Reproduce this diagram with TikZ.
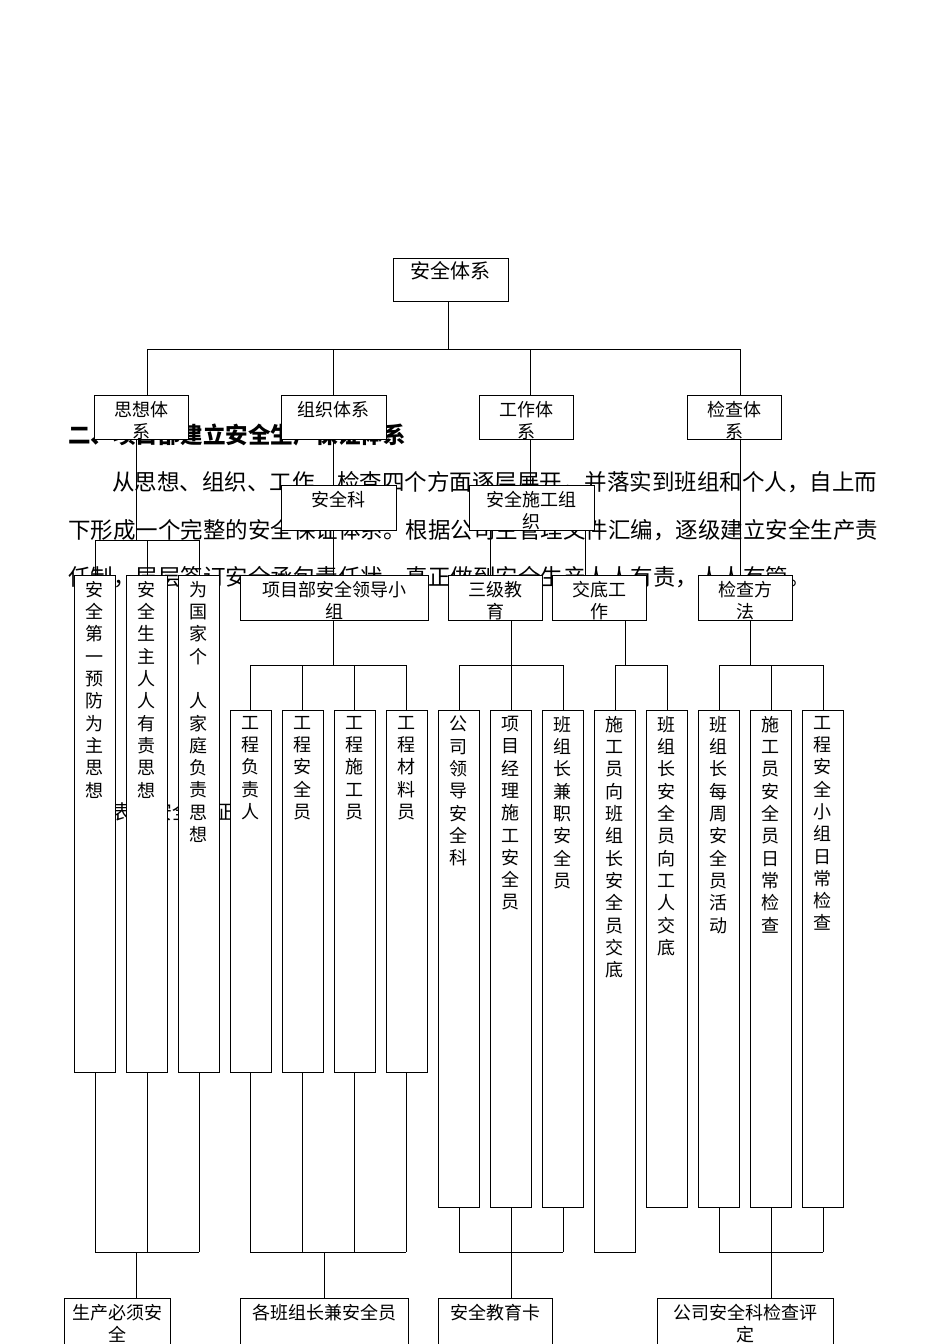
\documentclass[tikz,border=0pt]{standalone}
\usepackage{fontspec}
\setmainfont{Noto Sans CJK SC}
\tikzset{
  bx/.style={draw,fill=white,inner sep=0pt,line width=0.9pt},
  tx/.style={inner sep=0pt,anchor=north,align=center,font=\fontsize{18}{22}\selectfont},
  vtx/.style={inner sep=0pt,anchor=north,align=center,font=\fontsize{18}{22.3}\selectfont},
  bg/.style={inner sep=0pt,anchor=west,font=\fontsize{22.5}{25}\selectfont},
  ln/.style={line width=0.8pt}
}
\newcommand\Bx[7]{%
  \node[bx,minimum width={(#4-#2)*1pt},minimum height={(#5-#3)*1pt}] (#1) at ({(#2+#4)/2},{(#3+#5)/2}) {};
  \node[#7] (#1t) at ({(#2+#4)/2},{#3+6}) {#6};}
\begin{document}
\begin{tikzpicture}[x=1pt,y=-1pt]
\useasboundingbox (0,0) rectangle (950,1344);
% background text
\node[bg,font=\fontsize{22.5}{25}\bfseries\selectfont] (h) at (68,435) {二、项目部建立安全生产保证体系};
\node[bg] (p1) at (112,482) {从思想、组织、工作、检查四个方面逐层展开，并落实到班组和个人，自上而};
\node[bg] (p2) at (68,530) {下形成一个完整的安全保证体系。根据公司主管理文件汇编，逐级建立安全生产责};
\node[bg] (p3) at (68,577) {任制，层层签订安全承包责任状，真正做到安全生产人人有责，人人有管。};
\node[bg,font=\fontsize{20}{20}\selectfont] (cap) at (112,812) {表　安全保证体系};
% lines
\draw[ln] (448,301) -- (448,349);
\draw[ln] (147,349) -- (740,349);
\foreach \x in {147,333,530,740} \draw[ln] (\x,349) -- (\x,395);
% thought branch
\draw[ln] (136,439) -- (136,540);
\draw[ln] (95,540) -- (199,540);
\foreach \x in {95,147,199} {\draw[ln] (\x,540) -- (\x,575); \draw[ln] (\x,1072) -- (\x,1252);}
\draw[ln] (95,1252) -- (199,1252);
\draw[ln] (136,1252) -- (136,1298);
% organisation
\draw[ln] (333,439) -- (333,575);
\draw[ln] (333,620) -- (333,665);
\draw[ln] (250,665) -- (406,665);
\foreach \x in {250,302,354,406} {\draw[ln] (\x,665) -- (\x,710); \draw[ln] (\x,1072) -- (\x,1252);}
\draw[ln] (250,1252) -- (406,1252);
\draw[ln] (324,1252) -- (324,1298);
% work
\draw[ln] (530,439) -- (530,485);
\draw[ln] (490,530) -- (490,575);
\draw[ln] (585,530) -- (585,575);
\draw[ln] (511,620) -- (511,665);
\draw[ln] (459,665) -- (563,665);
\foreach \x in {459,511,563} {\draw[ln] (\x,665) -- (\x,710); \draw[ln] (\x,1207) -- (\x,1252);}
\draw[ln] (459,1252) -- (563,1252);
\draw[ln] (511,1252) -- (511,1298);
\draw[ln] (625,620) -- (625,665);
\draw[ln] (615,665) -- (667,665);
\foreach \x in {615,667} \draw[ln] (\x,665) -- (\x,710);
% check
\draw[ln] (740,439) -- (740,575);
\draw[ln] (750,620) -- (750,665);
\draw[ln] (719,665) -- (823,665);
\foreach \x in {719,771,823} {\draw[ln] (\x,665) -- (\x,710); \draw[ln] (\x,1207) -- (\x,1252);}
\draw[ln] (719,1252) -- (823,1252);
\draw[ln] (771,1252) -- (771,1298);
% boxes
\Bx{root}{393}{258}{508}{301}{\fontsize{20}{24}\selectfont 安全体系}{tx,yshift=3pt}
\Bx{a1}{94}{395}{188}{439}{思想体\\系}{tx}
\Bx{a2}{281}{395}{386}{439}{组织体系}{tx}
\Bx{a3}{479}{395}{573}{439}{工作体\\系}{tx}
\Bx{a4}{687}{395}{781}{439}{检查体\\系}{tx}
\Bx{b1}{281}{485}{396}{530}{安全科}{tx}
\Bx{b2}{469}{485}{594}{530}{安全施工组\\织}{tx}
\Bx{c1}{240}{575}{428}{620}{项目部安全领导小\\组}{tx}
\Bx{c2}{448}{575}{542}{620}{三级教\\育}{tx}
\Bx{c3}{552}{575}{646}{620}{交底工\\作}{tx}
\Bx{c4}{698}{575}{792}{620}{检查方\\法}{tx}
\Bx{t1}{74}{575}{115}{1072}{安\\全\\第\\一\\预\\防\\为\\主\\思\\想}{vtx}
\Bx{t2}{126}{575}{167}{1072}{安\\全\\生\\主\\人\\人\\有\\责\\思\\想}{vtx}
\Bx{t3}{178}{575}{219}{1072}{为\\国\\家\\个\\\strut\\人\\家\\庭\\负\\责\\思\\想}{vtx}
\Bx{o1}{230}{710}{271}{1072}{工\\程\\负\\责\\人}{vtx}
\Bx{o2}{282}{710}{323}{1072}{工\\程\\安\\全\\员}{vtx}
\Bx{o3}{334}{710}{375}{1072}{工\\程\\施\\工\\员}{vtx}
\Bx{o4}{386}{710}{427}{1072}{工\\程\\材\\料\\员}{vtx}
\Bx{w1}{438}{710}{479}{1207}{公\\司\\领\\导\\安\\全\\科}{vtx}
\Bx{w2}{490}{710}{531}{1207}{项\\目\\经\\理\\施\\工\\安\\全\\员}{vtx}
\Bx{w3}{542}{710}{583}{1207}{班\\组\\长\\兼\\职\\安\\全\\员}{vtx}
\Bx{w4}{594}{710}{635}{1252}{施\\工\\员\\向\\班\\组\\长\\安\\全\\员\\交\\底}{vtx}
\Bx{w5}{646}{710}{687}{1207}{班\\组\\长\\安\\全\\员\\向\\工\\人\\交\\底}{vtx}
\Bx{k1}{698}{710}{739}{1207}{班\\组\\长\\每\\周\\安\\全\\员\\活\\动}{vtx}
\Bx{k2}{750}{710}{791}{1207}{施\\工\\员\\安\\全\\员\\日\\常\\检\\查}{vtx}
\Bx{k3}{802}{710}{843}{1207}{工\\程\\安\\全\\小\\组\\日\\常\\检\\查}{vtx}
\Bx{d1}{64}{1298}{170}{1350}{生产必须安\\全}{tx}
\Bx{d2}{240}{1298}{408}{1350}{各班组长兼安全员}{tx}
\Bx{d3}{438}{1298}{552}{1350}{安全教育卡}{tx}
\Bx{d4}{657}{1298}{833}{1350}{公司安全科检查评\\定}{tx}
\end{tikzpicture}
\end{document}
